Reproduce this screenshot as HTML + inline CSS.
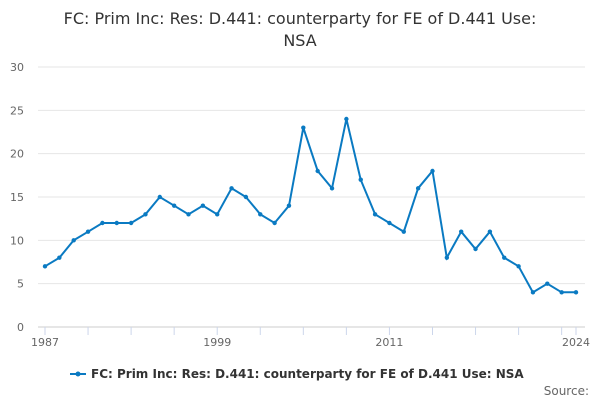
<!DOCTYPE html>
<html><head><meta charset="utf-8"><style>
body{margin:0;background:#fff;font-family:"DejaVu Sans","Liberation Sans",sans-serif;}
</style></head><body>
<svg width="600" height="400" xmlns="http://www.w3.org/2000/svg" font-family="DejaVu Sans, Liberation Sans, sans-serif">
<text x="300" y="24" text-anchor="middle" font-size="16" fill="#333">FC: Prim Inc: Res: D.441: counterparty for FE of D.441 Use:</text>
<text x="300" y="46" text-anchor="middle" font-size="16" fill="#333">NSA</text>
<g id="grid"></g>
<g id="yaxis"></g>
<g id="xaxis"></g>
<g id="series"></g>
<g>
<line x1="70" y1="374" x2="86" y2="374" stroke="#0a7ac2" stroke-width="2"/>
<circle cx="78" cy="374" r="2.5" fill="#0a7ac2"/>
<text x="91" y="378" font-size="12" font-weight="bold" fill="#333">FC: Prim Inc: Res: D.441: counterparty for FE of D.441 Use: NSA</text>
</g>
<text x="589" y="395" text-anchor="end" font-size="12" fill="#666">Source:</text>
</svg>
<script>
const years=[1987,1988,1989,1990,1991,1992,1993,1994,1995,1996,1997,1998,1999,2000,2001,2002,2003,2004,2005,2006,2007,2008,2009,2010,2011,2012,2013,2014,2015,2016,2017,2018,2019,2020,2021,2022,2023,2024];
const values=[7,8,10,11,12,12,12,13,15,14,13,14,13,16,15,13,12,14,23,18,16,24,17,13,12,11,16,18,8,11,9,11,8,7,4,5,4,4];
const yTicks=[0,5,10,15,20,25,30];
const xLabels=[1987,1999,2011,2024];
const NS="http://www.w3.org/2000/svg";
const x=v=>45+(v-1987)*(531/37);
const y=v=>327-v*(260/30);
function mk(tag,attrs,parent){const e=document.createElementNS(NS,tag);for(const k in attrs)e.setAttribute(k,attrs[k]);parent.appendChild(e);return e;}
const grid=document.getElementById('grid'),ya=document.getElementById('yaxis'),xa=document.getElementById('xaxis'),s=document.getElementById('series');
yTicks.forEach(t=>{
 const l=mk('line',{x1:38,x2:585,y1:y(t),y2:y(t),stroke:t===0?'#ccc':'#e6e6e6','stroke-width':1},grid);
 
 
 const tx=mk('text',{x:24,y:y(t)+4,'text-anchor':'end','font-size':11,fill:'#666'},ya);
 tx.textContent=t;
 
 
});
for(let yr=1987;yr<=2024;yr+=3){
 const tk=mk('line',{x1:x(yr),x2:x(yr),y1:327,y2:335,stroke:'#ccd6eb'},xa);
 
 
}
const tk2=mk('line',{x1:x(2024),x2:x(2024),y1:327,y2:335,stroke:'#ccd6eb'},xa);


xLabels.forEach(v=>{
 const tx=mk('text',{x:x(v),y:346,'text-anchor':'middle','font-size':11,fill:'#666'},xa);
 tx.textContent=v;
 
 
});
const d=values.map((v,i)=>(i?'L':'M')+x(years[i]).toFixed(1)+' '+y(v).toFixed(1)).join(' ');
const p=mk('path',{d:d,fill:'none',stroke:'#0a7ac2','stroke-width':2},s);


values.forEach((v,i)=>{
 const c=mk('circle',{cx:x(years[i]),cy:y(v),r:2.2,fill:'#0a7ac2'},s);
 
 
});
</script>
</body></html>
